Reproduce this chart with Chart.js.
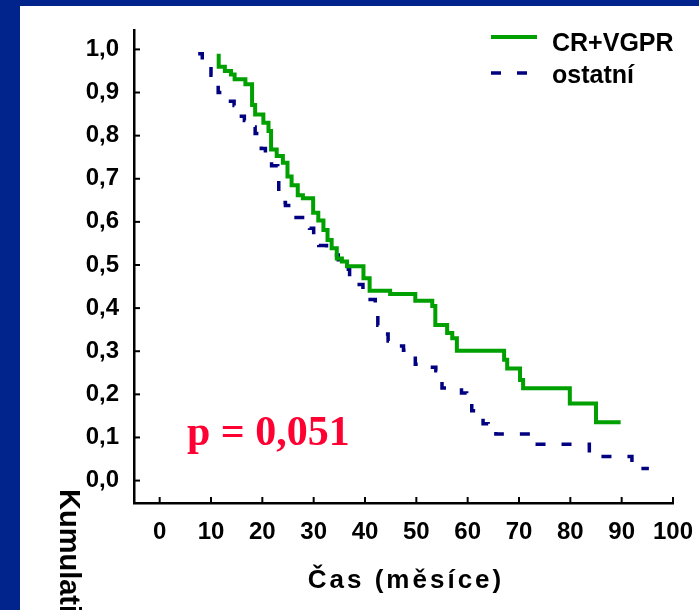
<!DOCTYPE html>
<html lang="cs">
<head>
<meta charset="UTF-8">
<title>Kumulativní přežití</title>
<script src="https://cdn.jsdelivr.net/npm/chart.js@4"></script>
<style>
  html, body { margin: 0; padding: 0; width: 699px; height: 610px; overflow: hidden; background: #00238c; }
  .panel { position: absolute; left: 20px; top: 6px; width: 679px; height: 604px; background: #fff; overflow: hidden; }
  canvas { display: block; }
</style>
</head>
<body>
<div class="panel"><canvas id="km" width="679" height="604"></canvas></div>
<script>
// axis ticks
const xTicks = [0, 10, 20, 30, 40, 50, 60, 70, 80, 90, 100];
const yTicks = [0, 0.1, 0.2, 0.3, 0.4, 0.5, 0.6, 0.7, 0.8, 0.9, 1.0];

// CR+VGPR (months, survival after the step)
const greenTime = [11.5, 11.5, 12.7, 13.9, 14.6, 16.7, 18.0, 18.6, 20.2, 21.2, 21.7, 22.8, 24.0, 24.9, 25.7, 26.9, 27.9, 29.9, 30.9, 31.9, 32.7, 33.5, 34.5, 35.5, 36.5, 39.7, 40.9, 44.9, 49.8, 53.1, 53.7, 56.0, 57.0, 57.9, 67.1, 67.7, 70.2, 70.8, 79.9, 85.0, 89.8];
const greenSurv = [0.99, 0.96, 0.95, 0.942, 0.931, 0.919, 0.871, 0.849, 0.830, 0.811, 0.768, 0.753, 0.737, 0.705, 0.685, 0.662, 0.655, 0.621, 0.603, 0.581, 0.558, 0.539, 0.515, 0.508, 0.497, 0.469, 0.440, 0.433, 0.417, 0.405, 0.361, 0.342, 0.330, 0.301, 0.280, 0.260, 0.233, 0.214, 0.179, 0.135, 0.135];

// ostatní
const blueTime = [7.5, 8.3, 9.6, 10.0, 11.4, 13.0, 14.5, 15.2, 16.5, 17.8, 18.6, 19.8, 20.6, 21.8, 23.0, 23.2, 24.5, 25.5, 26.2, 28.3, 29.2, 30.0, 31.0, 32.5, 34.8, 35.6, 37.0, 38.3, 39.6, 40.0, 42.0, 42.5, 43.0, 44.5, 46.0, 47.5, 49.8, 51.2, 53.8, 54.2, 55.0, 58.8, 59.8, 60.8, 61.8, 63.0, 64.0, 65.5, 73.0, 83.7, 92.0, 93.2, 95.3];
const blueSurv = [0.99, 0.975, 0.965, 0.94, 0.90, 0.88, 0.87, 0.845, 0.835, 0.82, 0.805, 0.77, 0.74, 0.73, 0.70, 0.645, 0.638, 0.62, 0.61, 0.595, 0.585, 0.555, 0.545, 0.523, 0.505, 0.49, 0.467, 0.455, 0.437, 0.42, 0.41, 0.36, 0.34, 0.324, 0.312, 0.302, 0.27, 0.263, 0.255, 0.238, 0.215, 0.203, 0.19, 0.162, 0.155, 0.132, 0.124, 0.108, 0.084, 0.056, 0.042, 0.028, 0.028];

const seriesLabels = ['CR+VGPR', 'ostatní'];
const pValueText = 'p = 0,051';
const xTitle = 'Čas (měsíce)';
const yTitle = 'Kumulativní přežití';

const SANS = "'Liberation Sans', Arial, sans-serif";
Chart.defaults.font.family = SANS;
Chart.defaults.color = '#000';

const toPoints = (t, s) => t.map((v, i) => ({ x: v, y: s[i] }));

// scale boxes get a fixed size so the plot area matches the picture
const fixBox = (s, size) => {
    if (s.isHorizontal()) s.height = size; else s.width = size;
    s.paddingLeft = s.paddingRight = s.paddingTop = s.paddingBottom = 0;
};

// tick marks, legend, p value and titles
const extras = {
    id: 'extras',
    afterDraw(chart) {
        const ctx = chart.ctx;
        const xs = chart.scales.x, ys = chart.scales.y;
        const area = chart.chartArea;
        ctx.save();
        ctx.strokeStyle = '#000';
        ctx.lineWidth = 2;
        xTicks.forEach(v => {
            const px = xs.getPixelForValue(v);
            ctx.beginPath(); ctx.moveTo(px, area.bottom); ctx.lineTo(px, area.bottom - 6); ctx.stroke();
        });
        yTicks.forEach(v => {
            const py = ys.getPixelForValue(v);
            ctx.beginPath(); ctx.moveTo(area.left, py); ctx.lineTo(area.left + 6, py); ctx.stroke();
        });

        // legend
        const lineY = [31, 67], textY = [45, 77];
        chart.data.datasets.forEach((ds, i) => {
            ctx.save();
            ctx.strokeStyle = ds.borderColor;
            ctx.lineWidth = ds.borderWidth;
            ctx.setLineDash(ds.borderDash || []);
            ctx.beginPath();
            ctx.moveTo(471, lineY[i]);
            ctx.lineTo(i === 0 ? 517 : 507, lineY[i]);
            ctx.stroke();
            ctx.restore();
            ctx.fillStyle = '#000';
            ctx.font = 'bold 25px ' + SANS;
            ctx.textAlign = 'left';
            ctx.textBaseline = 'alphabetic';
            ctx.fillText(ds.label, 532, textY[i]);
        });

        // p value
        ctx.fillStyle = '#ff0033';
        ctx.font = "bold 42px 'Liberation Serif', 'Times New Roman', serif";
        ctx.fillText(pValueText, 167, 439);

        // x title
        ctx.fillStyle = '#000';
        ctx.font = 'bold 26px ' + SANS;
        ctx.letterSpacing = '3px';
        ctx.textAlign = 'center';
        ctx.fillText(xTitle, 386, 582);

        // y title, rotated and running off the bottom
        ctx.letterSpacing = '0px';
        ctx.textAlign = 'left';
        ctx.translate(40, 483);
        ctx.rotate(Math.PI / 2);
        ctx.font = 'bold 29px ' + SANS;
        ctx.fillText(yTitle, 0, 0);
        ctx.restore();
    }
};

new Chart(document.getElementById('km'), {
    type: 'line',
    data: {
        datasets: [
            {
                label: seriesLabels[0],
                data: toPoints(greenTime, greenSurv),
                borderColor: '#00a000',
                borderWidth: 4,
                stepped: 'before',
                pointRadius: 0,
                fill: false
            },
            {
                label: seriesLabels[1],
                data: toPoints(blueTime, blueSurv),
                borderColor: '#000080',
                borderWidth: 3.5,
                borderDash: [10, 16],
                borderCapStyle: 'butt',
                stepped: 'before',
                pointRadius: 0,
                fill: false
            }
        ]
    },
    options: {
        responsive: false,
        animation: false,
        layout: { padding: { top: 24, right: 26, left: 0, bottom: 0 } },
        plugins: { legend: { display: false }, tooltip: { enabled: false } },
        scales: {
            x: {
                type: 'linear',
                min: -5,
                max: 100,
                afterBuildTicks: s => { s.ticks = xTicks.map(v => ({ value: v })); },
                afterFit: s => fixBox(s, 107),
                grid: { display: false, drawTicks: false },
                border: { display: true, color: '#000', width: 2.5 },
                ticks: {
                    autoSkip: false,
                    maxRotation: 0,
                    padding: 15,
                    color: '#000',
                    font: { size: 24, weight: 'bold' },
                    callback: v => String(v)
                }
            },
            y: {
                type: 'linear',
                min: -0.052,
                max: 1.045,
                afterBuildTicks: s => { s.ticks = yTicks.map(v => ({ value: v })); },
                afterFit: s => fixBox(s, 114),
                grid: { display: false, drawTicks: false },
                border: { display: true, color: '#000', width: 2.5 },
                ticks: {
                    autoSkip: false,
                    padding: 15,
                    color: '#000',
                    font: { size: 24, weight: 'bold' },
                    callback: v => v.toFixed(1).replace('.', ',')
                }
            }
        }
    },
    plugins: [extras]
});
</script>
</body>
</html>
